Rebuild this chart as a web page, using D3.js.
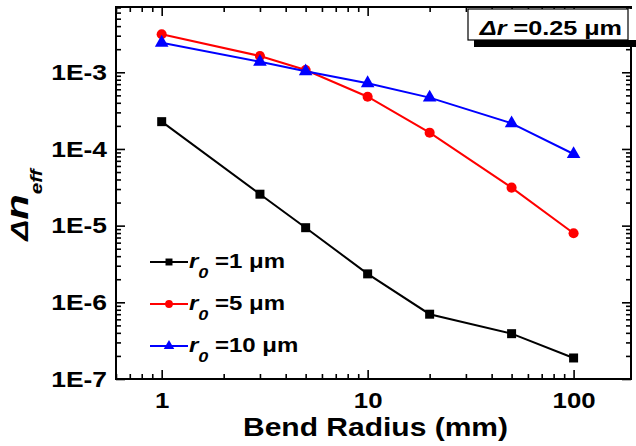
<!DOCTYPE html>
<html>
<head>
<meta charset="utf-8">
<script src="https://cdn.jsdelivr.net/npm/d3@7"></script>
<style>
  body { margin: 0; background: #fff; }
  text { font-family: "Liberation Sans", Arial, sans-serif; font-weight: bold; fill: #000; }
</style>
</head>
<body>
<svg id="chart" width="636" height="446"></svg>
<script>
// Bend radius (mm) and effective-index difference for three core radii
const bendRadius = [1, 3, 5, 10, 20, 50, 100];
const dnR1  = [2.27e-4, 2.57e-5, 9.4e-6, 2.35e-6, 7.0e-7, 3.9e-7, 1.88e-7];
const dnR5  = [3.13e-3, 1.63e-3, 1.07e-3, 4.8e-4, 1.63e-4, 3.13e-5, 7.95e-6];
const dnR10 = [2.43e-3, 1.37e-3, 1.03e-3, 7.2e-4, 4.67e-4, 2.16e-4, 8.6e-5];
const coreRadii = ["1", "5", "10"];
const xTickValues = [1, 10, 100];
const yTickValues = [1e-7, 1e-6, 1e-5, 1e-4, 1e-3];
const xDomain = [0.6, 190];
const yDomain = [1e-7, 7.1e-3];

// styling
const colors = ["#000000", "#ff0000", "#0000ff"];
const symbols = [d3.symbolSquare, d3.symbolCircle, d3.symbolTriangle];
const symbolSizes = [81, 80, 80];
const SX = 1.2; // horizontal glyph stretch

const svg = d3.select("#chart");
const W = 636, H = 446;
const margin = { top: 7, right: 5, bottom: 67, left: 116 };
const iw = W - margin.left - margin.right;
const ih = H - margin.top - margin.bottom;

const x = d3.scaleLog().domain(xDomain).range([margin.left, margin.left + iw]);
const y = d3.scaleLog().domain(yDomain).range([margin.top + ih, margin.top]);

const isPow10 = v => Math.abs(Math.log10(v) - Math.round(Math.log10(v))) < 1e-9;
const xMinor = x.ticks(10).filter(v => !isPow10(v));
const yMinor = y.ticks(10).filter(v => !isPow10(v));

const MAJ = 9, MIN = 5;
function styleAxis(g) {
  g.select(".domain").remove();
  g.selectAll(".tick line").attr("stroke", "#000").attr("stroke-width", 1.6);
}

// bottom axis with labels
svg.append("g").attr("transform", `translate(0,${margin.top + ih})`)
  .call(d3.axisBottom(x).tickValues(xTickValues).tickSize(-MAJ).tickSizeOuter(0)
    .tickPadding(13.5).tickFormat(d3.format("d")))
  .call(styleAxis)
  .call(g => g.selectAll("text").attr("font-size", 21.5)
    .attr("font-family", '"Liberation Sans", Arial, sans-serif')
    .attr("font-weight", "bold").attr("transform", `scale(${SX},1)`));
svg.append("g").attr("transform", `translate(0,${margin.top + ih})`)
  .call(d3.axisBottom(x).tickValues(xMinor).tickSize(-MIN).tickSizeOuter(0).tickFormat(""))
  .call(styleAxis);

// top mirror axis
svg.append("g").attr("transform", `translate(0,${margin.top})`)
  .call(d3.axisTop(x).tickValues(xTickValues).tickSize(-MAJ).tickSizeOuter(0).tickFormat(""))
  .call(styleAxis);
svg.append("g").attr("transform", `translate(0,${margin.top})`)
  .call(d3.axisTop(x).tickValues(xMinor).tickSize(-MIN).tickSizeOuter(0).tickFormat(""))
  .call(styleAxis);

// left axis with labels
svg.append("g").attr("transform", `translate(${margin.left},0)`)
  .call(d3.axisLeft(y).tickValues(yTickValues).tickSize(-MAJ).tickSizeOuter(0)
    .tickFormat(d => "1E" + Math.round(Math.log10(d))))
  .call(styleAxis)
  .call(g => g.selectAll("text").attr("font-size", 22)
    .attr("font-family", '"Liberation Sans", Arial, sans-serif')
    .attr("font-weight", "bold").attr("x", -9 / SX).attr("transform", `scale(${SX},1)`));
svg.append("g").attr("transform", `translate(${margin.left},0)`)
  .call(d3.axisLeft(y).tickValues(yMinor).tickSize(-MIN).tickSizeOuter(0).tickFormat(""))
  .call(styleAxis);

// right mirror axis
svg.append("g").attr("transform", `translate(${margin.left + iw},0)`)
  .call(d3.axisRight(y).tickValues(yTickValues).tickSize(-MAJ).tickSizeOuter(0).tickFormat(""))
  .call(styleAxis);
svg.append("g").attr("transform", `translate(${margin.left + iw},0)`)
  .call(d3.axisRight(y).tickValues(yMinor).tickSize(-MIN).tickSizeOuter(0).tickFormat(""))
  .call(styleAxis);

// frame
svg.append("rect").attr("x", margin.left).attr("y", margin.top)
  .attr("width", iw).attr("height", ih)
  .attr("fill", "none").attr("stroke", "#000").attr("stroke-width", 2);

// series
const series = [dnR1, dnR5, dnR10].map((vals, i) => ({
  name: coreRadii[i],
  color: colors[i],
  symbol: symbols[i],
  size: symbolSizes[i],
  points: bendRadius.map((r, j) => ({ r, v: vals[j] }))
}));

const line = d3.line().x(d => x(d.r)).y(d => y(d.v));
const sg = svg.append("g").selectAll("g").data(series).join("g");
sg.append("path")
  .attr("d", d => line(d.points))
  .attr("fill", "none").attr("stroke", d => d.color).attr("stroke-width", 2);
sg.selectAll(".pt").data(d => d.points.map(p => ({ ...p, s: d })))
  .join("path").attr("class", "pt")
  .attr("transform", p => `translate(${x(p.r)},${y(p.v)})`)
  .attr("d", p => d3.symbol(p.s.symbol, p.s.size)())
  .attr("fill", p => p.s.color);

// legend
const legend = svg.append("g").attr("transform", "translate(150,262)");
const lg = legend.selectAll("g").data(series).join("g")
  .attr("transform", (d, i) => `translate(0,${i * 42})`);
lg.append("line").attr("x1", 0).attr("x2", 38).attr("y1", 0).attr("y2", 0)
  .attr("stroke", d => d.color).attr("stroke-width", 2);
lg.append("path").attr("transform", "translate(19,0)")
  .attr("d", d => d3.symbol(d.symbol, d.size * 0.6)())
  .attr("fill", d => d.color);
const lt = lg.append("text").attr("transform", `translate(39,6) scale(${SX},1)`)
  .attr("font-size", 20);
lt.append("tspan").attr("font-style", "italic").text("r");
lt.append("tspan").attr("font-style", "italic").attr("font-size", 15).attr("dy", 10).text("0");
lt.append("tspan").attr("dy", -10).text(d => ` =${d.name} \u03bcm`);

// parameter box with drop shadow
const box = svg.append("g");
box.append("rect").attr("x", 468).attr("y", 9).attr("width", 168).attr("height", 38).attr("fill", "#fff");
box.append("rect").attr("x", 474).attr("y", 40).attr("width", 162).attr("height", 7).attr("fill", "#000");
box.append("rect").attr("x", 468).attr("y", 9).attr("width", 160).attr("height", 31)
  .attr("fill", "#fff").attr("stroke", "#000").attr("stroke-width", 1.2);
const bt = box.append("text").attr("transform", `translate(622,35) scale(${SX},1)`)
  .attr("text-anchor", "end").attr("font-size", 21);
bt.append("tspan").attr("font-style", "italic").text("\u0394r");
bt.append("tspan").text(" =0.25 \u03bcm");

// axis titles
svg.append("text").attr("transform", `translate(${margin.left + iw / 2 + 2},436) scale(${SX},1)`)
  .attr("text-anchor", "middle").attr("font-size", 25).text("Bend Radius (mm)");

const yt = svg.append("text")
  .attr("transform", `translate(28,205) rotate(-90) scale(1.3,1)`)
  .attr("text-anchor", "middle").attr("font-style", "italic");
yt.append("tspan").attr("font-size", 24).text("\u0394");
yt.append("tspan").attr("font-size", 32).text("n");
yt.append("tspan").attr("font-size", 16).attr("dy", 14).text("eff");
</script>
</body>
</html>
